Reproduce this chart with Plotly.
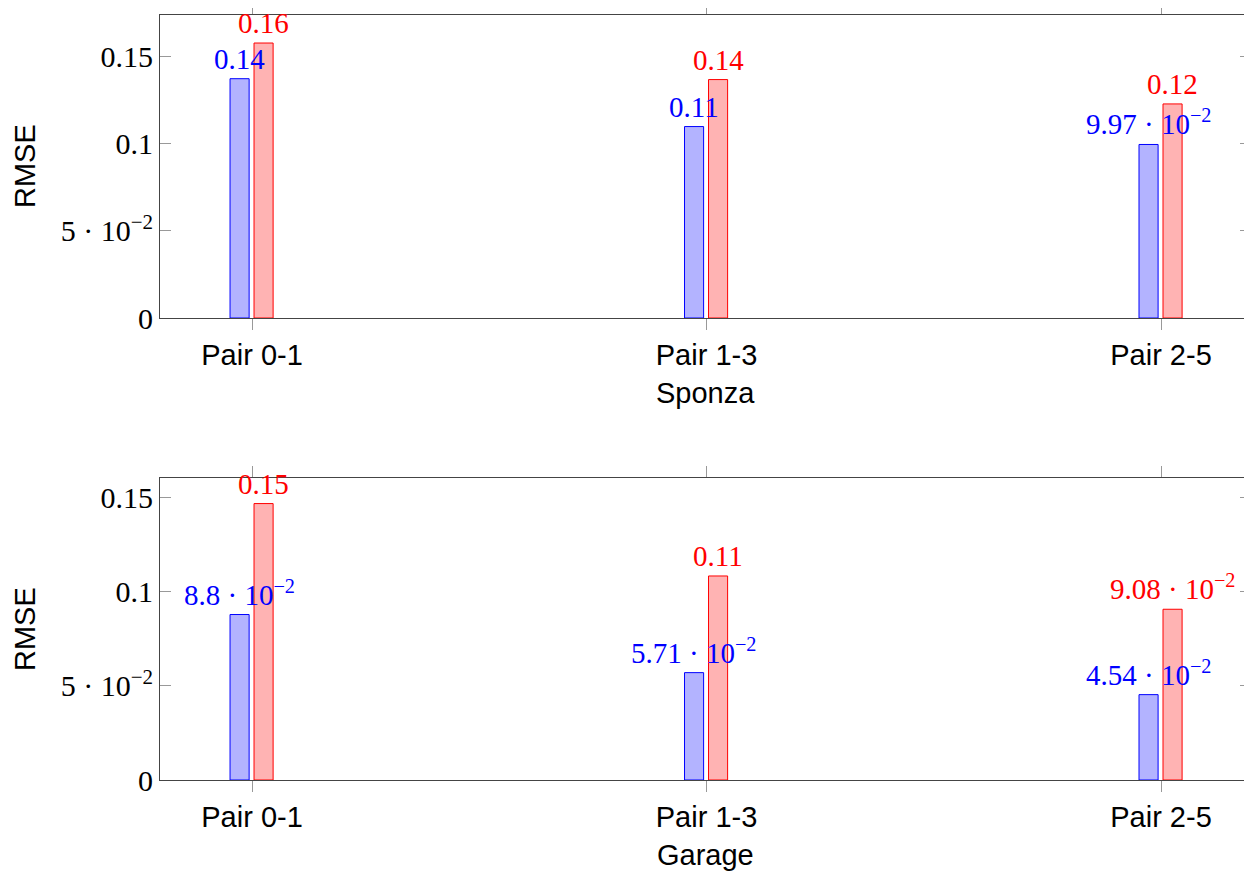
import plotly.graph_objects as go
from plotly.subplots import make_subplots

categories = ["Pair 0-1", "Pair 1-3", "Pair 2-5"]
sponza_blue = [0.1375, 0.110, 0.0997]
sponza_red = [0.158, 0.137, 0.123]
sponza_blue_labels = ["0.14", "0.11", "9.97 · 10<sup>−2</sup>"]
sponza_red_labels = ["0.16", "0.14", "0.12"]
garage_blue = [0.088, 0.0571, 0.0454]
garage_red = [0.147, 0.1085, 0.0908]
garage_blue_labels = ["8.8 · 10<sup>−2</sup>", "5.71 · 10<sup>−2</sup>", "4.54 · 10<sup>−2</sup>"]
garage_red_labels = ["0.15", "0.11", "9.08 · 10<sup>−2</sup>"]
ytick_vals = [0, 0.05, 0.1, 0.15]
ytick_text = ["0", "5 · 10<sup>−2</sup>", "0.1", "0.15"]

SERIF = "Liberation Serif"
SANS = "Liberation Sans"
BLUE_FILL = "rgb(179,179,255)"
RED_FILL = "rgb(255,179,179)"
BAR_W = 0.042
BLUE_OFF = -0.0484
RED_OFF = 0.0044

pos = list(range(len(categories)))

OFF = 8  # page body margin in the browser
W, H = 1252 - OFF, 873 - OFF
ml, mr, mt, mb = 160 - OFF, 1, 15 - OFF, 93
pw = W - ml - mr
ph = H - mt - mb
top_dom = [(780 - 318) / ph, 1.0]
bot_dom = [0.0, (780 - 478) / ph]


def py(y_page):
    return (H - mb - (y_page - OFF)) / ph


def px(x_page):
    return (x_page - OFF - ml) / pw


fig = make_subplots(rows=2, cols=1)

panels = [
    (1, sponza_blue, sponza_red, sponza_blue_labels, sponza_red_labels, "Sponza", 0.1741, top_dom, 166, 393),
    (2, garage_blue, garage_red, garage_blue_labels, garage_red_labels, "Garage", 0.1606, bot_dom, 629, 855),
]

annotations = []
for row, bv, rv, bl, rl, title, ymax, dom, ymid, xt_y in panels:
    fig.add_trace(go.Bar(x=pos, y=bv, width=BAR_W, offset=BLUE_OFF,
                         marker=dict(color=BLUE_FILL, line=dict(color="blue", width=1)),
                         showlegend=False), row=row, col=1)
    fig.add_trace(go.Bar(x=pos, y=rv, width=BAR_W, offset=RED_OFF,
                         marker=dict(color=RED_FILL, line=dict(color="red", width=1)),
                         showlegend=False), row=row, col=1)
    xref = "x" if row == 1 else "x2"
    yref = "y" if row == 1 else "y2"
    for p, v, t in zip(pos, bv, bl):
        annotations.append(dict(x=p + BLUE_OFF + BAR_W / 2, y=v, xref=xref, yref=yref,
                                text=t, showarrow=False, yanchor="bottom", yshift=2,
                                font=dict(family=SERIF, size=29, color="blue")))
    for p, v, t in zip(pos, rv, rl):
        annotations.append(dict(x=p + RED_OFF + BAR_W / 2, y=v, xref=xref, yref=yref,
                                text=t, showarrow=False, yanchor="bottom", yshift=2,
                                font=dict(family=SERIF, size=29, color="red")))
    annotations.append(dict(x=px(25), y=py(ymid), xref="paper", yref="paper", text="RMSE",
                            textangle=-90, showarrow=False, xanchor="center", yanchor="middle",
                            font=dict(family=SANS, size=29, color="black")))
    annotations.append(dict(x=px(705), y=py(xt_y), xref="paper", yref="paper", text=title,
                            showarrow=False, xanchor="center", yanchor="middle",
                            font=dict(family=SANS, size=29, color="black")))
    fig.update_xaxes(row=row, col=1, range=[-0.2025, 2.198], tickvals=pos, ticktext=categories,
                     ticks="outside", ticklen=11, tickcolor="#999999", tickwidth=1,
                     showline=True, linecolor="#444444", linewidth=1, mirror="ticks",
                     showgrid=False, zeroline=False, automargin=False,
                     tickfont=dict(family=SANS, size=29, color="black"))
    fig.update_yaxes(row=row, col=1, range=[0, ymax], domain=dom, tickvals=ytick_vals, ticktext=ytick_text,
                     ticks="inside", ticklen=11, tickcolor="#999999", tickwidth=1,
                     showline=True, linecolor="#444444", linewidth=1, mirror="ticks",
                     showgrid=False, zeroline=False, automargin=False,
                     tickfont=dict(family=SERIF, size=30, color="black"))

fig.update_layout(width=W, height=H, barmode="overlay",
                  margin=dict(l=ml, r=mr, t=mt, b=mb),
                  plot_bgcolor="white", paper_bgcolor="white",
                  annotations=annotations)
fig.update_traces(cliponaxis=False)

fig.write_html("out.html")
